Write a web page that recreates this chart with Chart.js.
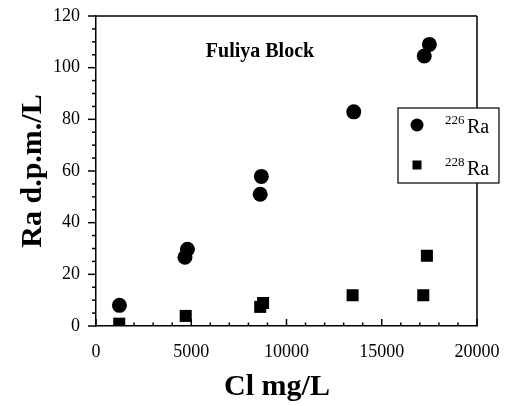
<!DOCTYPE html>
<html>
<head>
<meta charset="utf-8">
<script src="https://cdn.jsdelivr.net/npm/chart.js@4"></script>
<style>
html,body{margin:0;padding:0;background:#fff;}
#wrap{width:509px;height:406px;}
</style>
</head>
<body>
<div id="wrap"><canvas id="c" width="509" height="406"></canvas></div>
<script>
// Data
const cl226 = [1230, 4670, 4800, 8620, 8680, 13530, 17230, 17500];
const ra226 = [8.0, 26.6, 29.7, 51.0, 57.9, 82.9, 104.5, 109.0];
const cl228 = [1220, 4710, 8620, 8770, 13470, 17180, 17370];
const ra228 = [0.9, 3.9, 7.4, 8.9, 11.9, 11.9, 27.2];
const xTicks = [0, 5000, 10000, 15000, 20000];
const yTicks = [0, 20, 40, 60, 80, 100, 120];
const seriesNames = ['226', '228'];

const FONT = "'Liberation Serif', 'DejaVu Serif', serif";

const pts = (xs, ys) => xs.map((v, i) => ({x: v, y: ys[i]}));

const decor = {
  id: 'decor',
  afterDraw(chart) {
    const {ctx, chartArea: a, scales: {x, y}} = chart;
    ctx.save();
    ctx.strokeStyle = '#000';
    ctx.lineWidth = 1.5;
    const line = (x1, y1, x2, y2) => { ctx.beginPath(); ctx.moveTo(x1, y1); ctx.lineTo(x2, y2); ctx.stroke(); };
    // top & right frame
    line(a.left, a.top, a.right, a.top);
    line(a.right, a.top, a.right, a.bottom);
    // x ticks (inward)
    for (let v = xTicks[0]; v <= xTicks[xTicks.length - 1]; v += 1000) {
      const px = x.getPixelForValue(v);
      const len = (v % 5000 === 0) ? 7 : 3.5;
      line(px, a.bottom, px, a.bottom - len);
    }
    // y ticks (outward)
    for (let v = yTicks[0]; v <= yTicks[yTicks.length - 1]; v += 5) {
      const py = y.getPixelForValue(v);
      const len = (v % 20 === 0) ? 8 : 4;
      line(a.left, py, a.left - len, py);
    }
    // title inside plot
    ctx.fillStyle = '#000';
    ctx.font = "bold 20px " + FONT;
    ctx.textAlign = 'center';
    ctx.textBaseline = 'alphabetic';
    ctx.fillText('Fuliya Block', 260, 57);
    // axis titles
    ctx.font = "bold 30px " + FONT;
    ctx.fillText('Cl mg/L', 277, 395);
    ctx.save();
    ctx.translate(41, (a.top + a.bottom) / 2);
    ctx.rotate(-Math.PI / 2);
    ctx.fillText('Ra d.p.m./L', 0, 0);
    ctx.restore();
    // legend
    const bx = 398, by = 108, bw = 101, bh = 75;
    ctx.fillStyle = '#fff';
    ctx.fillRect(bx, by, bw, bh);
    ctx.lineWidth = 1.2;
    ctx.strokeRect(bx, by, bw, bh);
    ctx.fillStyle = '#000';
    ctx.beginPath(); ctx.arc(417, 125, 6.5, 0, Math.PI * 2); ctx.fill();
    ctx.fillRect(412.5, 160.5, 9, 9);
    ctx.textAlign = 'left';
    const rows = [[124, 133], [166, 175]];
    rows.forEach((r, i) => {
      ctx.font = "13px " + FONT;
      ctx.fillText(seriesNames[i], 445, r[0]);
      ctx.font = "20px " + FONT;
      ctx.fillText('Ra', 467, r[1]);
    });
    ctx.restore();
  }
};

new Chart(document.getElementById('c'), {
  type: 'scatter',
  data: {
    datasets: [
      {label: '226Ra', data: pts(cl226, ra226), pointStyle: 'circle', pointRadius: 7.5, pointHoverRadius: 7.5,
       backgroundColor: '#000', borderColor: '#000', borderWidth: 0},
      {label: '228Ra', data: pts(cl228, ra228), pointStyle: 'rect', pointRadius: 8.5, pointHoverRadius: 8.5,
       backgroundColor: '#000', borderColor: '#000', borderWidth: 0}
    ]
  },
  options: {
    responsive: false,
    animation: false,
    events: [],
    layout: {padding: {top: 16, right: 32, left: 0, bottom: 0}},
    plugins: {legend: {display: false}, tooltip: {enabled: false}},
    scales: {
      x: {
        type: 'linear', min: 0, max: 20000,
        afterBuildTicks: s => { s.ticks = xTicks.map(v => ({value: v})); },
        afterFit: s => { s.height = 80; s.paddingLeft = 0; s.paddingRight = 0; },
        grid: {display: false, drawTicks: false},
        border: {display: true, color: '#000', width: 1.5},
        ticks: {color: '#000', font: {family: FONT, size: 18}, padding: 15, maxRotation: 0, autoSkip: false,
                callback: v => String(v)}
      },
      y: {
        type: 'linear', min: 0, max: 120,
        afterBuildTicks: s => { s.ticks = yTicks.map(v => ({value: v})); },
        afterFit: s => { s.width = 96; s.paddingTop = 0; s.paddingBottom = 0; },
        grid: {display: false, drawTicks: false},
        border: {display: true, color: '#000', width: 1.5},
        ticks: {color: '#000', font: {family: FONT, size: 18}, padding: 16, autoSkip: false,
                callback: v => String(v)}
      }
    }
  },
  plugins: [decor]
});
</script>
</body>
</html>
